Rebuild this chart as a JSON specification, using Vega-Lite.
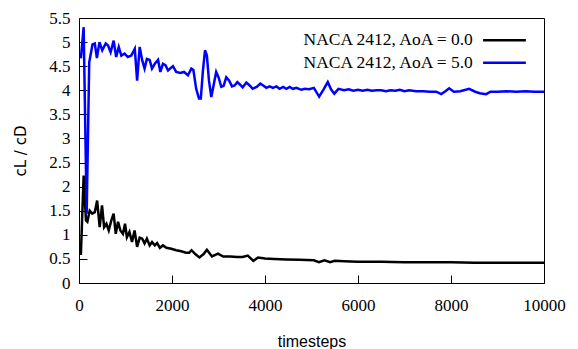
{
  "$schema": "https://vega.github.io/schema/vega-lite/v6.json",
  "width": 465,
  "height": 265,
  "padding": {"left": 13, "top": 9, "right": 4, "bottom": 5},
  "config": {
    "view": {"stroke": "#000000", "strokeWidth": 1}
  },
  "data": {"values": [
      {"t": 40, "v": 4.66, "s": "NACA 2412, AoA = 5.0"},
      {"t": 100, "v": 5.31, "s": "NACA 2412, AoA = 5.0"},
      {"t": 165, "v": 1.44, "s": "NACA 2412, AoA = 5.0"},
      {"t": 220, "v": 4.58, "s": "NACA 2412, AoA = 5.0"},
      {"t": 290, "v": 4.95, "s": "NACA 2412, AoA = 5.0"},
      {"t": 340, "v": 4.97, "s": "NACA 2412, AoA = 5.0"},
      {"t": 385, "v": 4.67, "s": "NACA 2412, AoA = 5.0"},
      {"t": 440, "v": 5.0, "s": "NACA 2412, AoA = 5.0"},
      {"t": 500, "v": 4.83, "s": "NACA 2412, AoA = 5.0"},
      {"t": 575, "v": 4.97, "s": "NACA 2412, AoA = 5.0"},
      {"t": 625, "v": 4.93, "s": "NACA 2412, AoA = 5.0"},
      {"t": 680, "v": 4.79, "s": "NACA 2412, AoA = 5.0"},
      {"t": 745, "v": 5.03, "s": "NACA 2412, AoA = 5.0"},
      {"t": 800, "v": 4.69, "s": "NACA 2412, AoA = 5.0"},
      {"t": 855, "v": 4.9, "s": "NACA 2412, AoA = 5.0"},
      {"t": 910, "v": 4.72, "s": "NACA 2412, AoA = 5.0"},
      {"t": 980, "v": 4.76, "s": "NACA 2412, AoA = 5.0"},
      {"t": 1050, "v": 4.69, "s": "NACA 2412, AoA = 5.0"},
      {"t": 1125, "v": 4.72, "s": "NACA 2412, AoA = 5.0"},
      {"t": 1200, "v": 4.86, "s": "NACA 2412, AoA = 5.0"},
      {"t": 1250, "v": 4.2, "s": "NACA 2412, AoA = 5.0"},
      {"t": 1305, "v": 4.9, "s": "NACA 2412, AoA = 5.0"},
      {"t": 1360, "v": 4.62, "s": "NACA 2412, AoA = 5.0"},
      {"t": 1410, "v": 4.45, "s": "NACA 2412, AoA = 5.0"},
      {"t": 1460, "v": 4.65, "s": "NACA 2412, AoA = 5.0"},
      {"t": 1520, "v": 4.63, "s": "NACA 2412, AoA = 5.0"},
      {"t": 1570, "v": 4.45, "s": "NACA 2412, AoA = 5.0"},
      {"t": 1630, "v": 4.55, "s": "NACA 2412, AoA = 5.0"},
      {"t": 1700, "v": 4.63, "s": "NACA 2412, AoA = 5.0"},
      {"t": 1750, "v": 4.38, "s": "NACA 2412, AoA = 5.0"},
      {"t": 1805, "v": 4.55, "s": "NACA 2412, AoA = 5.0"},
      {"t": 1860, "v": 4.52, "s": "NACA 2412, AoA = 5.0"},
      {"t": 1915, "v": 4.41, "s": "NACA 2412, AoA = 5.0"},
      {"t": 2020, "v": 4.5, "s": "NACA 2412, AoA = 5.0"},
      {"t": 2090, "v": 4.38, "s": "NACA 2412, AoA = 5.0"},
      {"t": 2180, "v": 4.36, "s": "NACA 2412, AoA = 5.0"},
      {"t": 2260, "v": 4.38, "s": "NACA 2412, AoA = 5.0"},
      {"t": 2343, "v": 4.31, "s": "NACA 2412, AoA = 5.0"},
      {"t": 2415, "v": 4.45, "s": "NACA 2412, AoA = 5.0"},
      {"t": 2460, "v": 4.42, "s": "NACA 2412, AoA = 5.0"},
      {"t": 2520, "v": 4.03, "s": "NACA 2412, AoA = 5.0"},
      {"t": 2580, "v": 3.83, "s": "NACA 2412, AoA = 5.0"},
      {"t": 2620, "v": 3.83, "s": "NACA 2412, AoA = 5.0"},
      {"t": 2665, "v": 4.41, "s": "NACA 2412, AoA = 5.0"},
      {"t": 2710, "v": 4.83, "s": "NACA 2412, AoA = 5.0"},
      {"t": 2750, "v": 4.72, "s": "NACA 2412, AoA = 5.0"},
      {"t": 2795, "v": 4.2, "s": "NACA 2412, AoA = 5.0"},
      {"t": 2845, "v": 3.86, "s": "NACA 2412, AoA = 5.0"},
      {"t": 2900, "v": 4.13, "s": "NACA 2412, AoA = 5.0"},
      {"t": 2950, "v": 4.38, "s": "NACA 2412, AoA = 5.0"},
      {"t": 3000, "v": 4.27, "s": "NACA 2412, AoA = 5.0"},
      {"t": 3060, "v": 4.07, "s": "NACA 2412, AoA = 5.0"},
      {"t": 3110, "v": 4.09, "s": "NACA 2412, AoA = 5.0"},
      {"t": 3167, "v": 4.27, "s": "NACA 2412, AoA = 5.0"},
      {"t": 3230, "v": 4.2, "s": "NACA 2412, AoA = 5.0"},
      {"t": 3290, "v": 4.08, "s": "NACA 2412, AoA = 5.0"},
      {"t": 3345, "v": 4.1, "s": "NACA 2412, AoA = 5.0"},
      {"t": 3405, "v": 4.17, "s": "NACA 2412, AoA = 5.0"},
      {"t": 3460, "v": 4.12, "s": "NACA 2412, AoA = 5.0"},
      {"t": 3520, "v": 4.06, "s": "NACA 2412, AoA = 5.0"},
      {"t": 3600, "v": 4.16, "s": "NACA 2412, AoA = 5.0"},
      {"t": 3670, "v": 4.1, "s": "NACA 2412, AoA = 5.0"},
      {"t": 3735, "v": 4.03, "s": "NACA 2412, AoA = 5.0"},
      {"t": 3820, "v": 4.07, "s": "NACA 2412, AoA = 5.0"},
      {"t": 3900, "v": 4.14, "s": "NACA 2412, AoA = 5.0"},
      {"t": 3960, "v": 4.1, "s": "NACA 2412, AoA = 5.0"},
      {"t": 4030, "v": 4.05, "s": "NACA 2412, AoA = 5.0"},
      {"t": 4100, "v": 4.08, "s": "NACA 2412, AoA = 5.0"},
      {"t": 4170, "v": 4.05, "s": "NACA 2412, AoA = 5.0"},
      {"t": 4245, "v": 4.08, "s": "NACA 2412, AoA = 5.0"},
      {"t": 4315, "v": 4.03, "s": "NACA 2412, AoA = 5.0"},
      {"t": 4390, "v": 4.07, "s": "NACA 2412, AoA = 5.0"},
      {"t": 4460, "v": 4.03, "s": "NACA 2412, AoA = 5.0"},
      {"t": 4530, "v": 4.07, "s": "NACA 2412, AoA = 5.0"},
      {"t": 4600, "v": 4.03, "s": "NACA 2412, AoA = 5.0"},
      {"t": 4675, "v": 4.05, "s": "NACA 2412, AoA = 5.0"},
      {"t": 4780, "v": 4.01, "s": "NACA 2412, AoA = 5.0"},
      {"t": 4855, "v": 4.03, "s": "NACA 2412, AoA = 5.0"},
      {"t": 4950, "v": 4.02, "s": "NACA 2412, AoA = 5.0"},
      {"t": 5050, "v": 4.05, "s": "NACA 2412, AoA = 5.0"},
      {"t": 5165, "v": 3.87, "s": "NACA 2412, AoA = 5.0"},
      {"t": 5260, "v": 4.02, "s": "NACA 2412, AoA = 5.0"},
      {"t": 5350, "v": 4.17, "s": "NACA 2412, AoA = 5.0"},
      {"t": 5420, "v": 4.02, "s": "NACA 2412, AoA = 5.0"},
      {"t": 5490, "v": 3.93, "s": "NACA 2412, AoA = 5.0"},
      {"t": 5580, "v": 4.03, "s": "NACA 2412, AoA = 5.0"},
      {"t": 5700, "v": 4.0, "s": "NACA 2412, AoA = 5.0"},
      {"t": 5800, "v": 4.02, "s": "NACA 2412, AoA = 5.0"},
      {"t": 5900, "v": 3.99, "s": "NACA 2412, AoA = 5.0"},
      {"t": 6000, "v": 4.01, "s": "NACA 2412, AoA = 5.0"},
      {"t": 6100, "v": 3.99, "s": "NACA 2412, AoA = 5.0"},
      {"t": 6200, "v": 4.01, "s": "NACA 2412, AoA = 5.0"},
      {"t": 6300, "v": 3.99, "s": "NACA 2412, AoA = 5.0"},
      {"t": 6400, "v": 4.0, "s": "NACA 2412, AoA = 5.0"},
      {"t": 6500, "v": 4.0, "s": "NACA 2412, AoA = 5.0"},
      {"t": 6600, "v": 3.98, "s": "NACA 2412, AoA = 5.0"},
      {"t": 6700, "v": 4.0, "s": "NACA 2412, AoA = 5.0"},
      {"t": 6800, "v": 3.99, "s": "NACA 2412, AoA = 5.0"},
      {"t": 6900, "v": 4.01, "s": "NACA 2412, AoA = 5.0"},
      {"t": 7000, "v": 3.98, "s": "NACA 2412, AoA = 5.0"},
      {"t": 7100, "v": 4.0, "s": "NACA 2412, AoA = 5.0"},
      {"t": 7250, "v": 3.98, "s": "NACA 2412, AoA = 5.0"},
      {"t": 7400, "v": 3.98, "s": "NACA 2412, AoA = 5.0"},
      {"t": 7550, "v": 3.97, "s": "NACA 2412, AoA = 5.0"},
      {"t": 7680, "v": 3.97, "s": "NACA 2412, AoA = 5.0"},
      {"t": 7790, "v": 3.92, "s": "NACA 2412, AoA = 5.0"},
      {"t": 7880, "v": 3.98, "s": "NACA 2412, AoA = 5.0"},
      {"t": 7960, "v": 4.04, "s": "NACA 2412, AoA = 5.0"},
      {"t": 8060, "v": 3.97, "s": "NACA 2412, AoA = 5.0"},
      {"t": 8200, "v": 3.98, "s": "NACA 2412, AoA = 5.0"},
      {"t": 8390, "v": 4.03, "s": "NACA 2412, AoA = 5.0"},
      {"t": 8520, "v": 3.97, "s": "NACA 2412, AoA = 5.0"},
      {"t": 8620, "v": 3.94, "s": "NACA 2412, AoA = 5.0"},
      {"t": 8755, "v": 3.92, "s": "NACA 2412, AoA = 5.0"},
      {"t": 8850, "v": 3.97, "s": "NACA 2412, AoA = 5.0"},
      {"t": 9000, "v": 3.97, "s": "NACA 2412, AoA = 5.0"},
      {"t": 9200, "v": 3.98, "s": "NACA 2412, AoA = 5.0"},
      {"t": 9400, "v": 3.97, "s": "NACA 2412, AoA = 5.0"},
      {"t": 9600, "v": 3.98, "s": "NACA 2412, AoA = 5.0"},
      {"t": 9800, "v": 3.97, "s": "NACA 2412, AoA = 5.0"},
      {"t": 10000, "v": 3.97, "s": "NACA 2412, AoA = 5.0"},
      {"t": 40, "v": 0.58, "s": "NACA 2412, AoA = 0.0"},
      {"t": 100, "v": 2.23, "s": "NACA 2412, AoA = 0.0"},
      {"t": 150, "v": 1.3, "s": "NACA 2412, AoA = 0.0"},
      {"t": 180, "v": 1.27, "s": "NACA 2412, AoA = 0.0"},
      {"t": 230, "v": 1.5, "s": "NACA 2412, AoA = 0.0"},
      {"t": 285, "v": 1.44, "s": "NACA 2412, AoA = 0.0"},
      {"t": 340, "v": 1.47, "s": "NACA 2412, AoA = 0.0"},
      {"t": 390, "v": 1.71, "s": "NACA 2412, AoA = 0.0"},
      {"t": 445, "v": 1.16, "s": "NACA 2412, AoA = 0.0"},
      {"t": 495, "v": 1.61, "s": "NACA 2412, AoA = 0.0"},
      {"t": 540, "v": 1.16, "s": "NACA 2412, AoA = 0.0"},
      {"t": 590, "v": 1.23, "s": "NACA 2412, AoA = 0.0"},
      {"t": 640, "v": 1.09, "s": "NACA 2412, AoA = 0.0"},
      {"t": 695, "v": 1.3, "s": "NACA 2412, AoA = 0.0"},
      {"t": 745, "v": 1.44, "s": "NACA 2412, AoA = 0.0"},
      {"t": 790, "v": 1.02, "s": "NACA 2412, AoA = 0.0"},
      {"t": 840, "v": 1.27, "s": "NACA 2412, AoA = 0.0"},
      {"t": 890, "v": 1.09, "s": "NACA 2412, AoA = 0.0"},
      {"t": 945, "v": 1.02, "s": "NACA 2412, AoA = 0.0"},
      {"t": 990, "v": 1.23, "s": "NACA 2412, AoA = 0.0"},
      {"t": 1030, "v": 0.95, "s": "NACA 2412, AoA = 0.0"},
      {"t": 1085, "v": 1.06, "s": "NACA 2412, AoA = 0.0"},
      {"t": 1140, "v": 0.85, "s": "NACA 2412, AoA = 0.0"},
      {"t": 1195, "v": 1.09, "s": "NACA 2412, AoA = 0.0"},
      {"t": 1250, "v": 0.75, "s": "NACA 2412, AoA = 0.0"},
      {"t": 1305, "v": 0.94, "s": "NACA 2412, AoA = 0.0"},
      {"t": 1360, "v": 0.92, "s": "NACA 2412, AoA = 0.0"},
      {"t": 1410, "v": 0.82, "s": "NACA 2412, AoA = 0.0"},
      {"t": 1460, "v": 0.92, "s": "NACA 2412, AoA = 0.0"},
      {"t": 1520, "v": 0.78, "s": "NACA 2412, AoA = 0.0"},
      {"t": 1570, "v": 0.85, "s": "NACA 2412, AoA = 0.0"},
      {"t": 1630, "v": 0.78, "s": "NACA 2412, AoA = 0.0"},
      {"t": 1680, "v": 0.83, "s": "NACA 2412, AoA = 0.0"},
      {"t": 1740, "v": 0.73, "s": "NACA 2412, AoA = 0.0"},
      {"t": 1805, "v": 0.78, "s": "NACA 2412, AoA = 0.0"},
      {"t": 1880, "v": 0.73, "s": "NACA 2412, AoA = 0.0"},
      {"t": 1985, "v": 0.71, "s": "NACA 2412, AoA = 0.0"},
      {"t": 2090, "v": 0.68, "s": "NACA 2412, AoA = 0.0"},
      {"t": 2200, "v": 0.66, "s": "NACA 2412, AoA = 0.0"},
      {"t": 2300, "v": 0.63, "s": "NACA 2412, AoA = 0.0"},
      {"t": 2370, "v": 0.63, "s": "NACA 2412, AoA = 0.0"},
      {"t": 2420, "v": 0.68, "s": "NACA 2412, AoA = 0.0"},
      {"t": 2500, "v": 0.6, "s": "NACA 2412, AoA = 0.0"},
      {"t": 2590, "v": 0.53, "s": "NACA 2412, AoA = 0.0"},
      {"t": 2680, "v": 0.6, "s": "NACA 2412, AoA = 0.0"},
      {"t": 2750, "v": 0.69, "s": "NACA 2412, AoA = 0.0"},
      {"t": 2860, "v": 0.55, "s": "NACA 2412, AoA = 0.0"},
      {"t": 2990, "v": 0.61, "s": "NACA 2412, AoA = 0.0"},
      {"t": 3100, "v": 0.55, "s": "NACA 2412, AoA = 0.0"},
      {"t": 3250, "v": 0.55, "s": "NACA 2412, AoA = 0.0"},
      {"t": 3400, "v": 0.54, "s": "NACA 2412, AoA = 0.0"},
      {"t": 3520, "v": 0.54, "s": "NACA 2412, AoA = 0.0"},
      {"t": 3630, "v": 0.57, "s": "NACA 2412, AoA = 0.0"},
      {"t": 3750, "v": 0.46, "s": "NACA 2412, AoA = 0.0"},
      {"t": 3850, "v": 0.53, "s": "NACA 2412, AoA = 0.0"},
      {"t": 4000, "v": 0.51, "s": "NACA 2412, AoA = 0.0"},
      {"t": 4200, "v": 0.5, "s": "NACA 2412, AoA = 0.0"},
      {"t": 4460, "v": 0.49, "s": "NACA 2412, AoA = 0.0"},
      {"t": 4750, "v": 0.48, "s": "NACA 2412, AoA = 0.0"},
      {"t": 5050, "v": 0.47, "s": "NACA 2412, AoA = 0.0"},
      {"t": 5160, "v": 0.43, "s": "NACA 2412, AoA = 0.0"},
      {"t": 5280, "v": 0.47, "s": "NACA 2412, AoA = 0.0"},
      {"t": 5400, "v": 0.43, "s": "NACA 2412, AoA = 0.0"},
      {"t": 5500, "v": 0.46, "s": "NACA 2412, AoA = 0.0"},
      {"t": 5700, "v": 0.45, "s": "NACA 2412, AoA = 0.0"},
      {"t": 6000, "v": 0.44, "s": "NACA 2412, AoA = 0.0"},
      {"t": 6500, "v": 0.44, "s": "NACA 2412, AoA = 0.0"},
      {"t": 7000, "v": 0.43, "s": "NACA 2412, AoA = 0.0"},
      {"t": 7500, "v": 0.43, "s": "NACA 2412, AoA = 0.0"},
      {"t": 8000, "v": 0.43, "s": "NACA 2412, AoA = 0.0"},
      {"t": 8500, "v": 0.42, "s": "NACA 2412, AoA = 0.0"},
      {"t": 9000, "v": 0.42, "s": "NACA 2412, AoA = 0.0"},
      {"t": 9500, "v": 0.42, "s": "NACA 2412, AoA = 0.0"},
      {"t": 10000, "v": 0.42, "s": "NACA 2412, AoA = 0.0"}
  ]},
  "layer": [
    {
      "transform": [{"filter": "datum.s === 'NACA 2412, AoA = 0.0'"}],
      "mark": {"type": "line", "strokeWidth": 2.5, "color": "#000000"},
      "encoding": {
        "x": {
          "field": "t", "type": "quantitative",
          "scale": {"domain": [0, 10000], "nice": false},
          "axis": {"title": "timesteps", "tickCount": 5, "labelExpr": "'' + datum.value", "labelFlush": false,
            "grid": false, "domain": false, "ticks": true, "tickColor": "#000000", "tickSize": -8, "tickWidth": 1,
            "labelFont": "Liberation Serif", "labelFontSize": 17, "labelColor": "#000000", "labelPadding": 22,
            "titleFont": "Liberation Sans", "titleFontSize": 16, "titleFontWeight": "normal", "titleColor": "#000000", "titlePadding": 20}
        },
        "y": {
          "field": "v", "type": "quantitative",
          "scale": {"domain": [0, 5.5], "nice": false},
          "axis": {"title": "cL / cD", "tickCount": 11, "labelExpr": "'' + datum.value",
            "grid": false, "domain": false, "ticks": true, "tickColor": "#000000", "tickSize": -8, "tickWidth": 1,
            "labelFont": "Liberation Serif", "labelFontSize": 17, "labelColor": "#000000", "labelPadding": 17,
            "titleFont": "DejaVu Sans", "titleFontSize": 15, "titleFontWeight": "normal", "titleColor": "#000000", "titlePadding": 20}
        }
      }
    },
    {
      "transform": [{"filter": "datum.s === 'NACA 2412, AoA = 5.0'"}],
      "mark": {"type": "line", "strokeWidth": 2.5, "color": "#0000ff"},
      "encoding": {
        "x": {"field": "t", "type": "quantitative"},
        "y": {"field": "v", "type": "quantitative"}
      }
    },
    {
      "data": {"values": [{"s": "NACA 2412, AoA = 0.0"}]},
      "mark": {"type": "text", "align": "right", "baseline": "middle", "font": "Liberation Serif", "fontSize": 17.5, "color": "#000000"},
      "encoding": {
        "x": {"datum": 8470, "type": "quantitative"},
        "y": {"datum": 5.04, "type": "quantitative"},
        "text": {"field": "s"}
      }
    },
    {
      "data": {"values": [{"s": "NACA 2412, AoA = 5.0"}]},
      "mark": {"type": "text", "align": "right", "baseline": "middle", "font": "Liberation Serif", "fontSize": 17.5, "color": "#000000"},
      "encoding": {
        "x": {"datum": 8470, "type": "quantitative"},
        "y": {"datum": 4.57, "type": "quantitative"},
        "text": {"field": "s"}
      }
    },
    {
      "data": {"values": [{"s": "NACA 2412, AoA = 0.0"}]},
      "mark": {"type": "rule", "strokeWidth": 2.5, "color": "#000000"},
      "encoding": {
        "x": {"datum": 8690, "type": "quantitative"},
        "x2": {"datum": 9610},
        "y": {"datum": 5.04, "type": "quantitative"}
      }
    },
    {
      "data": {"values": [{"s": "NACA 2412, AoA = 5.0"}]},
      "mark": {"type": "rule", "strokeWidth": 2.5, "color": "#0000ff"},
      "encoding": {
        "x": {"datum": 8690, "type": "quantitative"},
        "x2": {"datum": 9610},
        "y": {"datum": 4.57, "type": "quantitative"}
      }
    }
  ]
}
